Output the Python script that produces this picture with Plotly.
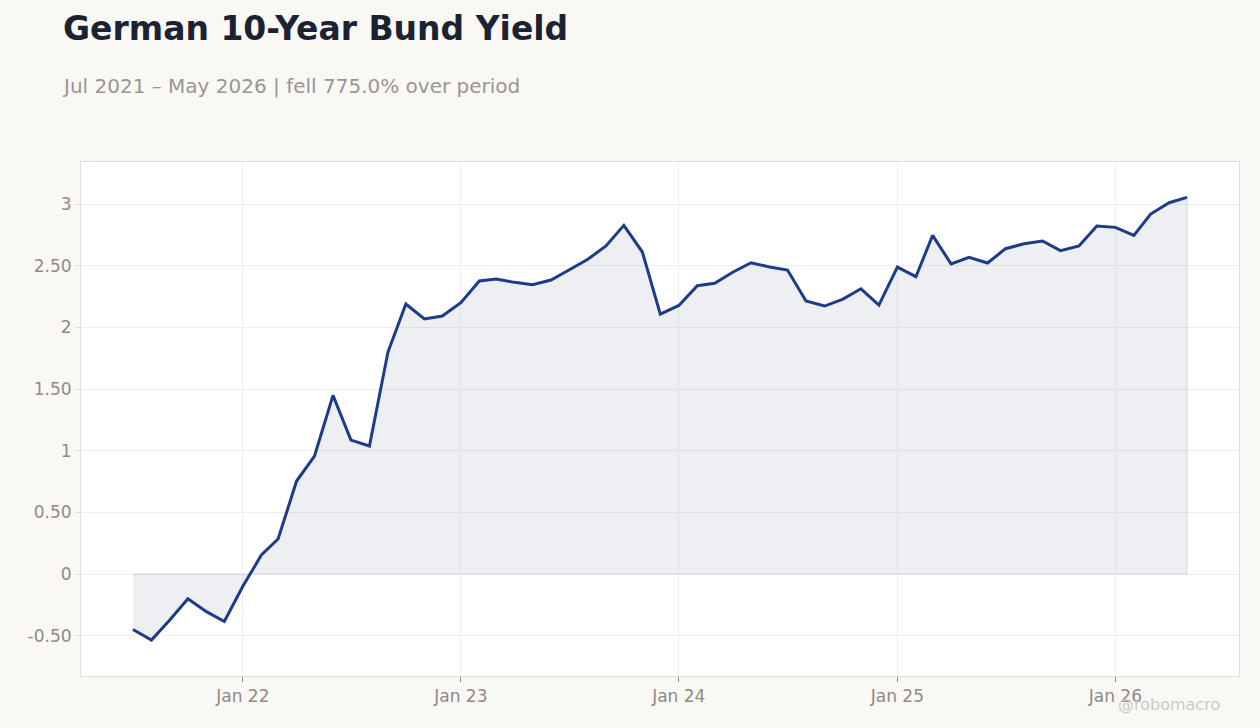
import plotly.graph_objects as go
import pandas as pd

dates = pd.date_range("2021-07-01", "2026-05-01", freq="MS")
yields = [
    -0.45, -0.535, -0.37, -0.20, -0.305, -0.385,
    -0.10, 0.154, 0.284, 0.754, 0.957, 1.449, 1.086, 1.038, 1.80, 2.189, 2.068, 2.092,
    2.20, 2.376, 2.392, 2.365, 2.346, 2.384, 2.465, 2.55, 2.66, 2.827, 2.611, 2.108,
    2.178, 2.338, 2.357, 2.449, 2.524, 2.489, 2.465, 2.214, 2.173, 2.227, 2.313, 2.181,
    2.489, 2.411, 2.746, 2.514, 2.568, 2.522, 2.638, 2.678, 2.70, 2.622, 2.66, 2.822,
    2.811, 2.746, 2.919, 3.011, 3.054,
]
y_tickvals = [-0.5, 0, 0.5, 1, 1.5, 2, 2.5, 3]
y_ticktext = ["-0.50", "0", "0.50", "1", "1.50", "2", "2.50", "3"]
x_tickvals = ["2022-01-01", "2023-01-01", "2024-01-01", "2025-01-01", "2026-01-01"]
x_ticktext = ["Jan 22", "Jan 23", "Jan 24", "Jan 25", "Jan 26"]

title = "German 10-Year Bund Yield"
subtitle = "Jul 2021 – May 2026 | fell 775.0% over period"
watermark = "@robomacro"

LINE = "#1e3a8a"
FONT = "DejaVu Sans"

xs = list(dates)
fig = go.Figure()
fig.add_trace(go.Scatter(
    x=xs + xs[::-1],
    y=yields + [0] * len(yields),
    fill="toself",
    fillcolor="rgba(30,45,105,0.08)",
    line=dict(color="rgba(30,58,138,0.10)", width=1.5),
    mode="lines",
    hoverinfo="skip",
    showlegend=False,
))
fig.add_trace(go.Scatter(
    x=xs, y=yields, mode="lines",
    line=dict(color=LINE, width=3),
    showlegend=False,
))

fig.update_layout(
    width=1260, height=728,
    paper_bgcolor="#f9f8f5",
    plot_bgcolor="#ffffff",
    margin=dict(l=81, r=21, t=162, b=52),
    font=dict(family=FONT, color="#8f8a85", size=17),
    xaxis=dict(
        range=["2021-04-05", "2026-07-27"],
        tickvals=x_tickvals, ticktext=x_ticktext,
        showgrid=True, gridcolor="#efefef", gridwidth=1,
        ticks="outside", ticklen=5, tickcolor="#8f8a85", tickwidth=1,
        showline=True, linecolor="#e2ddd5", linewidth=1, mirror=True,
        zeroline=False,
        tickfont=dict(size=17, color="#8f8a85"),
    ),
    yaxis=dict(
        range=[-0.827, 3.341],
        tickvals=y_tickvals, ticktext=y_ticktext,
        showgrid=True, gridcolor="#efefef", gridwidth=1,
        ticks="outside", ticklen=5, tickcolor="#e2ddd5", tickwidth=1,
        showline=True, linecolor="#e2ddd5", linewidth=1, mirror=True,
        zeroline=False,
        tickfont=dict(size=17, color="#8f8a85"),
    ),
    annotations=[
        dict(text=f"<b>{title}</b>", xref="paper", yref="paper",
             x=-0.0172, y=1.2588, xanchor="left", yanchor="middle",
             showarrow=False, font=dict(size=33, color="#1b2333", family=FONT)),
        dict(text=subtitle, xref="paper", yref="paper",
             x=-0.0181, y=1.1479, xanchor="left", yanchor="middle",
             showarrow=False, font=dict(size=20, color="#9a9590", family=FONT)),
        dict(text=watermark, xref="paper", yref="paper",
             x=0.9853, y=-0.0564, xanchor="right", yanchor="middle",
             showarrow=False, font=dict(size=16, color="#cfcac5", family=FONT)),
    ],
)

fig.write_html("out.html", config={"displayModeBar": False},
               post_script="document.body.style.margin='0';")
